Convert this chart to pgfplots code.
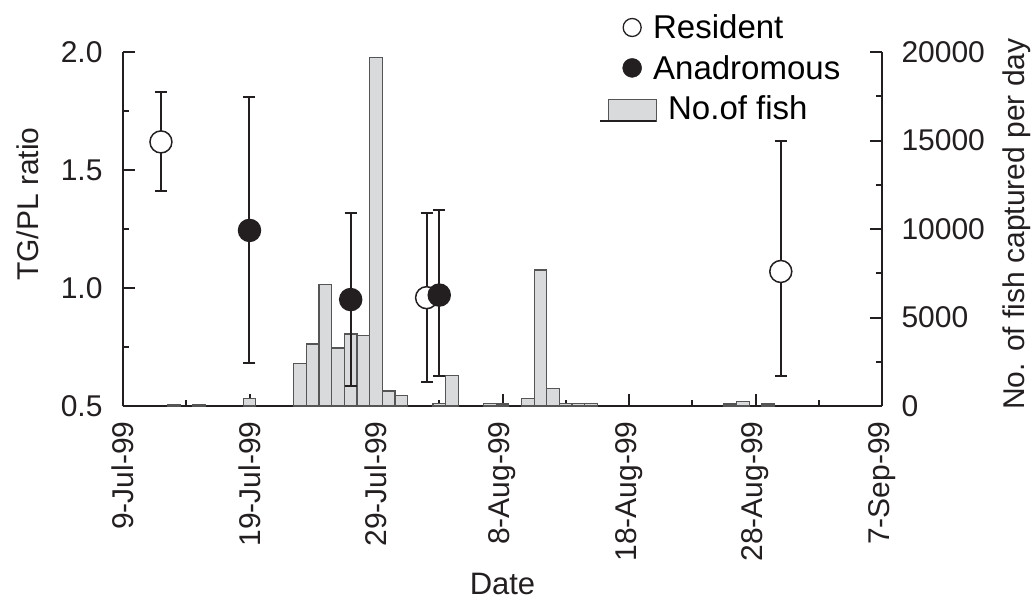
\documentclass[border=0pt]{standalone}
\usepackage{fontspec}
\setmainfont{Liberation Sans}
\usepackage{pgfplots}
\pgfplotsset{compat=1.18}
\definecolor{barfill}{HTML}{D9DADC}
\definecolor{bardraw}{HTML}{555555}
\definecolor{ink}{HTML}{231F20}
\begin{document}
\begin{tikzpicture}
\useasboundingbox (-123bp,-198bp) rectangle (911bp,406bp);
\pgfplotsset{
  common/.style={
    scale only axis, width=759bp, height=354bp, at={(0,0)}, anchor=south west,
    xmin=0, xmax=60,
    tick align=inside, major tick length=12bp, minor tick length=6bp,
    axis line style={line width=2bp, ink},
    every tick/.style={line width=2bp, ink},
    tick label style={font=\fontsize{30bp}{36bp}\selectfont, text=ink},
    /pgf/number format/assume math mode=true,
    scaled y ticks=false,
  }
}
\begin{axis}[common,
  ymin=0, ymax=20000,
  axis x line*=bottom, axis y line*=right,
  xtick={0,10,20,30,40,50,60}, minor xtick={5,15,25,35,45,55},
  xticklabels={9-Jul-99,19-Jul-99,29-Jul-99,8-Aug-99,18-Aug-99,28-Aug-99,7-Sep-99},
  x tick label style={rotate=90, anchor=east},
  xticklabel shift=12bp, yticklabel shift=16bp,
  ytick={0,5000,10000,15000,20000}, minor ytick={2500,7500,12500,17500},
  yticklabels={0,5000,10000,15000,20000},
  xlabel={Date}, ylabel={No. of fish captured per day},
  every axis x label/.style={at={(axis description cs:0.5,0)}, yshift=-178bp, anchor=center, font=\fontsize{31bp}{36bp}\selectfont, text=ink},
  every axis y label/.style={at={(axis description cs:1,0.5)}, xshift=135bp, yshift=5bp, rotate=90, anchor=center, font=\fontsize{30bp}{36bp}\selectfont, text=ink},
]
\addplot[ybar, bar width=1, fill=barfill, draw=bardraw, line width=1.2bp] coordinates {
(4,60) (6,80) (10,420) (14,2412) (15,3503) (16,6874) (17,3277) (18,4068) (19,3973) (20,19700)
(21,850) (22,580) (25,130) (26,1733) (29,150) (30,110) (32,415) (33,7684) (34,1000)
(35,150) (36,150) (37,150) (48,110) (49,260) (51,110)};
\end{axis}
\begin{axis}[common,
  ymin=0.5, ymax=2,
  axis x line=none, axis y line*=left,
  ytick={0.5,1,1.5,2}, minor ytick={0.75,1.25,1.75},
  yticklabels={0.5,1.0,1.5,2.0},
  yticklabel shift=17bp,
  ylabel={TG/PL ratio},
  every axis y label/.style={at={(axis description cs:0,0.5)}, xshift=-95bp, yshift=25bp, rotate=90, anchor=center, font=\fontsize{30bp}{36bp}\selectfont, text=ink},
  legend style={at={(0.6337,1.1057)}, anchor=north west, draw=none, fill=none,
    font=\fontsize{33bp}{38bp}\selectfont, inner sep=0pt, row sep=15bp, column sep=13bp,
    nodes={inner sep=0pt}, cells={anchor=west}},
]
\addplot[only marks, mark=*, mark size=11bp, mark options={fill=white, draw=ink, line width=1.5bp},
  legend image code/.code={\draw[overlay, fill=white, draw=ink, line width=1.3bp] (0bp,0bp) circle (9bp); \path[draw=none, fill=none] (-28bp,-10bp) rectangle (8bp,10bp);},
  error bars/.cd, y dir=both, y explicit,
  error bar style={line width=2bp, ink}, error mark options={rotate=90, mark size=6bp, line width=2bp, ink}]
  coordinates {(3,1.619) += (0,0.212) -= (0,0.210)
               (24,0.959) += (0,0.360) -= (0,0.359)
               (52,1.070) += (0,0.554) -= (0,0.443)};
\addlegendentry{Resident}
\addplot[only marks, mark=*, mark size=11bp, mark options={fill=ink, draw=ink, line width=1.5bp},
  legend image code/.code={\fill[overlay, ink] (0bp,0bp) circle (9.5bp); \path[draw=none, fill=none] (-28bp,-10bp) rectangle (8bp,10bp);},
  error bars/.cd, y dir=both, y explicit,
  error bar style={line width=2bp, ink}, error mark options={rotate=90, mark size=6bp, line width=2bp, ink}]
  coordinates {(10,1.244) += (0,0.564) -= (0,0.562)
               (18,0.951) += (0,0.365) -= (0,0.366)
               (25,0.970) += (0,0.359) -= (0,0.344)};
\addlegendentry{Anadromous}
\addlegendimage{legend image code/.code={\draw[overlay, fill=barfill, draw=bardraw, line width=1.2bp] (-24bp,-13bp) rectangle (24bp,9bp); \draw[overlay, line width=2bp, ink] (-32bp,-13bp) -- (24bp,-13bp); \path[draw=none, fill=none] (-28bp,-14bp) rectangle (8bp,12bp);}}
\addlegendentry{\hspace{15bp}No.of fish}
\end{axis}
\end{tikzpicture}
\end{document}
